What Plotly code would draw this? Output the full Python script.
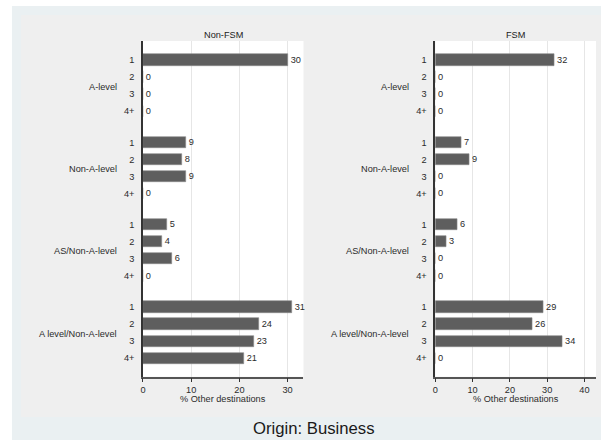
import plotly.graph_objects as go

# ---- data ----
groups = ["A-level", "Non-A-level", "AS/Non-A-level", "A level/Non-A-level"]
items = ["1", "2", "3", "4+"]
non_fsm = [30, 0, 0, 0, 9, 8, 9, 0, 5, 4, 6, 0, 31, 24, 23, 21]
fsm = [32, 0, 0, 0, 7, 9, 0, 0, 6, 3, 0, 0, 29, 26, 34, 0]
panel_titles = ["Non-FSM", "FSM"]
x_ticks_left = [0, 10, 20, 30]
x_ticks_right = [0, 10, 20, 30, 40]
x_title = "% Other destinations"
caption = "Origin: Business"

# ---- layout helpers ----
W, H = 602, 447
STRIDE = 4.82
ypos = [g * STRIDE + i for g in range(len(groups)) for i in range(len(items))]
yticktext = [it for _ in groups for it in items]
group_centers = [g * STRIDE + 1.5 for g in range(len(groups))]

FONT = "Liberation Sans, Arial, sans-serif"
BAR = "#5e5e5e"
TXT = "#2b2b2b"

def px(x):
    return x / W

def py(y):
    return 1 - y / H

top, bottom = 41, 376.7
panels = [
    dict(vals=non_fsm, x0=140.7, x1=302, xmax=33.3, ticks=x_ticks_left, title=panel_titles[0]),
    dict(vals=fsm, x0=434.5, x1=596, xmax=43.1, ticks=x_ticks_right, title=panel_titles[1]),
]

fig = go.Figure()
shapes = [
    dict(type="rect", xref="paper", yref="paper", x0=px(9), x1=px(601), y0=py(440), y1=py(6),
         fillcolor="#eaf0f2", line=dict(width=0), layer="below"),
    dict(type="rect", xref="paper", yref="paper", x0=px(18), x1=px(601), y0=py(417), y1=py(15),
         fillcolor="#efefef", line=dict(width=0), layer="below"),
]
annotations = []

for k, p in enumerate(panels):
    sfx = "" if k == 0 else str(k + 1)
    xa, ya = "x" + sfx, "y" + sfx
    fig.add_trace(go.Bar(
        x=p["vals"], y=ypos, orientation="h", width=0.66,
        marker=dict(color=BAR, line=dict(color="#8a8a8a", width=0.6)),
        text=[str(v) for v in p["vals"]], textposition="outside",
        textfont=dict(family=FONT, size=9.2, color=TXT),
        cliponaxis=False, xaxis=xa, yaxis=ya, showlegend=False, hoverinfo="skip",
    ))
    fig.layout["xaxis" + sfx] = dict(
        domain=[px(p["x0"]), px(p["x1"])], range=[0, p["xmax"]], anchor=ya,
        tickvals=p["ticks"], ticks="outside", ticklen=4, tickcolor="#333333", tickwidth=1,
        showline=True, linecolor="#555555", linewidth=1.5,
        showgrid=True, gridcolor="#e6e6e6", gridwidth=1, zeroline=False,
        tickfont=dict(family=FONT, size=9.2, color=TXT), fixedrange=True,
    )
    fig.layout["yaxis" + sfx] = dict(
        domain=[py(bottom), py(top)], range=[ypos[-1] + 1.08, -1.11], anchor=xa,
        tickvals=ypos, ticktext=yticktext, ticks="", ticklabelstandoff=5,
        showline=True, linecolor="#333333", linewidth=1.5,
        showgrid=False, zeroline=False,
        tickfont=dict(family=FONT, size=9.2, color=TXT), fixedrange=True,
    )
    shapes.append(dict(type="rect", xref=xa + " domain", yref=ya + " domain", x0=0, x1=1, y0=0, y1=1,
                       fillcolor="white", line=dict(width=0), layer="below"))
    for g, name in enumerate(groups):
        annotations.append(dict(
            text=name, xref=xa + " domain", x=0, xanchor="right", xshift=-24,
            yref=ya, y=group_centers[g], yanchor="middle", yshift=-1,
            showarrow=False, font=dict(family=FONT, size=9.2, color=TXT),
        ))
    cx = px((p["x0"] + p["x1"]) / 2)
    annotations.append(dict(text=p["title"], xref="paper", x=cx, xanchor="center",
                            yref="paper", y=py(35), yanchor="middle", showarrow=False,
                            font=dict(family=FONT, size=9.2, color="#222222")))
    annotations.append(dict(text=x_title, xref="paper", x=cx, xanchor="center",
                            yref="paper", y=py(399), yanchor="middle", showarrow=False,
                            font=dict(family=FONT, size=9.2, color=TXT)))

annotations.append(dict(text=caption, xref="paper", x=px(313), xanchor="center",
                        yref="paper", y=py(428), yanchor="middle", showarrow=False,
                        font=dict(family=FONT, size=16.7, color="#1a1a1a")))

fig.update_layout(
    width=W, height=H, margin=dict(l=0, r=0, t=0, b=0, pad=0),
    paper_bgcolor="white", plot_bgcolor="white",
    shapes=shapes, annotations=annotations, bargap=0,
    font=dict(family=FONT, size=9.2, color=TXT),
)

fig.write_html(
    "out.html",
    config={"displayModeBar": False},
    post_script="document.body.style.margin='0';document.body.style.overflow='hidden';",
)
